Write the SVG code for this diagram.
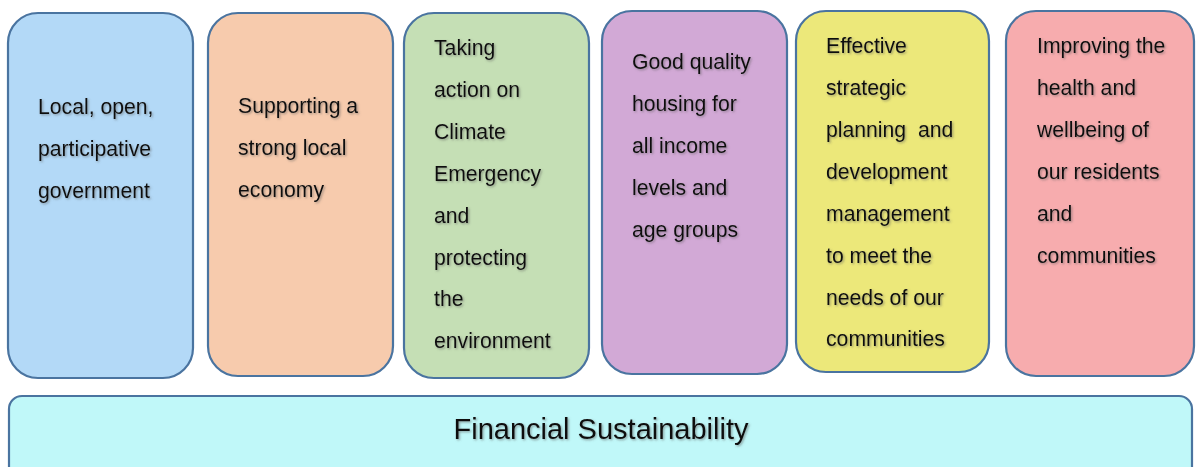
<svg xmlns="http://www.w3.org/2000/svg" width="1197" height="467" viewBox="0 0 1197 467">
<defs>
<filter id="sh" x="-5%" y="-20%" width="110%" height="140%">
<feDropShadow dx="1.2" dy="1.2" stdDeviation="0.8" flood-color="#555" flood-opacity="0.55"/>
</filter>
</defs>
<style>
.box{stroke:#4a74a0;stroke-width:2.2}
.t{font-family:"Liberation Sans",Arial,sans-serif;font-size:21.2px;fill:#111;filter:url(#sh)}
.big{font-family:"Liberation Sans",Arial,sans-serif;font-size:29px;fill:#111;filter:url(#sh)}
</style>
<rect width="1197" height="467" fill="#fff"/>
<g id="node1">
<rect class="box" x="8" y="13" width="185" height="365" rx="30" fill="#b3d9f7"/>
<text class="t" x="38"><tspan x="38" y="114">Local, open,</tspan><tspan x="38" y="156">participative</tspan><tspan x="38" y="198">government</tspan></text>
</g>
<g id="node2">
<rect class="box" x="208" y="13" width="185" height="363" rx="30" fill="#f7cbad"/>
<text class="t"><tspan x="238" y="113">Supporting a</tspan><tspan x="238" y="155">strong local</tspan><tspan x="238" y="197">economy</tspan></text>
</g>
<g id="node3">
<rect class="box" x="404" y="13" width="185" height="365" rx="30" fill="#c5dfb5"/>
<text class="t"><tspan x="434" y="55">Taking</tspan><tspan x="434" y="97">action on</tspan><tspan x="434" y="139">Climate</tspan><tspan x="434" y="181">Emergency</tspan><tspan x="434" y="223">and</tspan><tspan x="434" y="265">protecting</tspan><tspan x="434" y="306">the</tspan><tspan x="434" y="348">environment</tspan></text>
</g>
<g id="node4">
<rect class="box" x="602" y="11" width="185" height="363" rx="30" fill="#d2a9d6"/>
<text class="t"><tspan x="632" y="69">Good quality</tspan><tspan x="632" y="111">housing for</tspan><tspan x="632" y="153">all income</tspan><tspan x="632" y="195">levels and</tspan><tspan x="632" y="237">age groups</tspan></text>
</g>
<g id="node5">
<rect class="box" x="796" y="11" width="193" height="361" rx="30" fill="#ece87a"/>
<text class="t" xml:space="preserve"><tspan x="826" y="53">Effective</tspan><tspan x="826" y="95">strategic</tspan><tspan x="826" y="137">planning  and</tspan><tspan x="826" y="179">development</tspan><tspan x="826" y="221">management</tspan><tspan x="826" y="263">to meet the</tspan><tspan x="826" y="305">needs of our</tspan><tspan x="826" y="346">communities</tspan></text>
</g>
<g id="node6">
<rect class="box" x="1006" y="11" width="188" height="365" rx="30" fill="#f7acae"/>
<text class="t"><tspan x="1037" y="53">Improving the</tspan><tspan x="1037" y="95">health and</tspan><tspan x="1037" y="137">wellbeing of</tspan><tspan x="1037" y="179">our residents</tspan><tspan x="1037" y="221">and</tspan><tspan x="1037" y="263">communities</tspan></text>
</g>
<g id="node7">
<rect class="box" x="9" y="396" width="1183" height="90" rx="13" fill="#c0f8f9"/>
<text class="big" x="601" y="439" text-anchor="middle">Financial Sustainability</text>
</g>
<g id="connectors"></g>
</svg>
